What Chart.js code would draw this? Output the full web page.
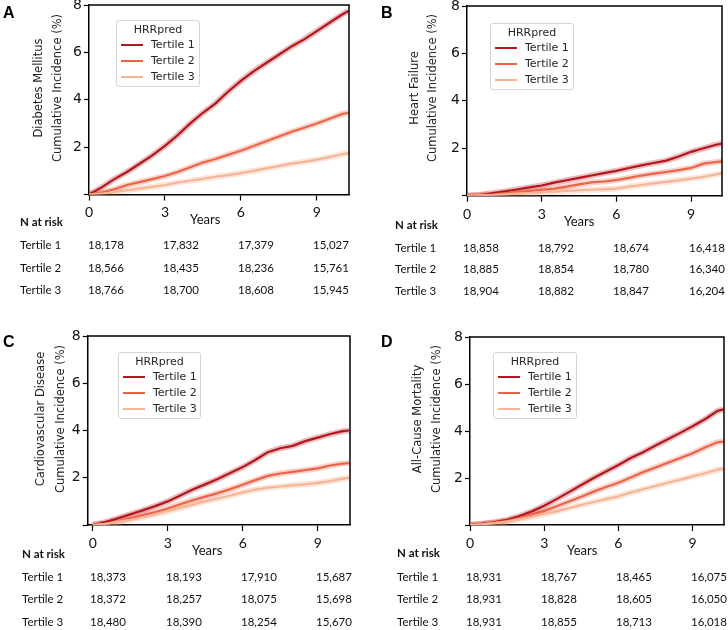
<!DOCTYPE html>
<html>
<head>
<meta charset="utf-8">
<script src="https://cdn.jsdelivr.net/npm/chart.js@4.4.0/dist/chart.umd.min.js"></script>
<style>
  body { margin: 0; background: #fff; }
  #page { position: relative; width: 728px; height: 630px; overflow: hidden; font-family: Lato, sans-serif; color: #111; }
  canvas { position: absolute; }
  .abs { position: absolute; white-space: nowrap; }
  .letter { font-family: "Liberation Sans", Arial, sans-serif; font-weight: bold; font-size: 16px; color: #000; }
  .ytitle { font-family: "DejaVu Sans", sans-serif; font-size: 11.5px; color: #222; transform: translate(-50%, -50%) rotate(-90deg); }
  .legend { border: 1px solid #d6d6d6; border-radius: 3px; background: rgba(255,255,255,0.85); font-family: "DejaVu Sans", sans-serif; font-size: 11px; color: #262626; }
  .legend .ttl { position: absolute; left: 0; right: 0; text-align: center; }
  .legend .row { position: absolute; white-space: nowrap; }
  .legend .swatch { display: inline-block; width: 22px; height: 2px; vertical-align: middle; margin-right: 8px; }
  .tbl { font-size: 11.5px; transform: translateY(-50%); }
  .years { font-size: 13px; transform: translateY(-50%); }
</style>
</head>
<body>
<div id="page"></div>
<script>
// ---- data ----
const YEARS = [0, 0.5, 1, 1.5, 2, 2.5, 3, 3.5, 4, 4.5, 5, 5.5, 6, 6.5, 7, 7.5, 8, 8.5, 9, 9.5, 10, 10.25];
const X_TICKS = [0, 3, 6, 9];
const Y_TICKS = [0, 2, 4, 6, 8];
const SERIES_NAMES = ['Tertile 1', 'Tertile 2', 'Tertile 3'];
const LEGEND_TITLE = 'HRRpred';
const PANEL_LETTERS = ['A', 'B', 'C', 'D'];
const PANEL_TITLES = ['Diabetes Mellitus', 'Heart Failure', 'Cardiovascular Disease', 'All-Cause Mortality'];

// Diabetes Mellitus
const DM_T1 = [0, 0.3, 0.65, 0.95, 1.3, 1.65, 2.05, 2.5, 3.0, 3.45, 3.85, 4.35, 4.8, 5.2, 5.55, 5.9, 6.25, 6.55, 6.9, 7.25, 7.6, 7.75];
const DM_T2 = [0, 0.08, 0.22, 0.4, 0.52, 0.65, 0.78, 0.95, 1.15, 1.35, 1.5, 1.68, 1.85, 2.05, 2.25, 2.45, 2.65, 2.82, 3.0, 3.2, 3.4, 3.45];
const DM_T3 = [0, 0.04, 0.1, 0.18, 0.25, 0.32, 0.4, 0.5, 0.58, 0.66, 0.75, 0.82, 0.9, 1.0, 1.1, 1.2, 1.3, 1.38, 1.47, 1.58, 1.7, 1.75];
// Heart Failure
const HF_T1 = [0, 0.03, 0.1, 0.18, 0.26, 0.35, 0.43, 0.55, 0.65, 0.75, 0.85, 0.95, 1.05, 1.17, 1.28, 1.38, 1.48, 1.65, 1.85, 2.0, 2.15, 2.2];
const HF_T2 = [0, 0.02, 0.05, 0.1, 0.15, 0.2, 0.25, 0.3, 0.38, 0.48, 0.56, 0.6, 0.66, 0.75, 0.85, 0.93, 1.0, 1.08, 1.17, 1.35, 1.42, 1.45];
const HF_T3 = [0, 0.01, 0.03, 0.06, 0.09, 0.11, 0.14, 0.17, 0.2, 0.23, 0.25, 0.27, 0.3, 0.38, 0.45, 0.52, 0.58, 0.65, 0.72, 0.8, 0.9, 0.95];
// Cardiovascular Disease
const CVD_T1 = [0, 0.12, 0.28, 0.45, 0.62, 0.8, 1.0, 1.25, 1.5, 1.72, 1.95, 2.2, 2.45, 2.75, 3.08, 3.25, 3.35, 3.55, 3.7, 3.85, 3.97, 4.0];
const CVD_T2 = [0, 0.05, 0.15, 0.28, 0.42, 0.55, 0.7, 0.88, 1.05, 1.2, 1.35, 1.52, 1.7, 1.9, 2.08, 2.18, 2.25, 2.32, 2.4, 2.52, 2.6, 2.62];
const CVD_T3 = [0, 0.05, 0.13, 0.22, 0.33, 0.45, 0.58, 0.72, 0.86, 1.0, 1.12, 1.25, 1.38, 1.5, 1.58, 1.63, 1.68, 1.72, 1.78, 1.86, 1.96, 2.0];
// All-Cause Mortality
const ACM_T1 = [0, 0.05, 0.12, 0.22, 0.38, 0.58, 0.82, 1.1, 1.4, 1.7, 2.0, 2.28, 2.55, 2.85, 3.1, 3.38, 3.65, 3.92, 4.2, 4.5, 4.85, 4.92];
const ACM_T2 = [0, 0.04, 0.1, 0.18, 0.3, 0.45, 0.6, 0.8, 1.0, 1.2, 1.42, 1.62, 1.8, 2.02, 2.25, 2.45, 2.65, 2.85, 3.05, 3.3, 3.52, 3.55];
const ACM_T3 = [0, 0.03, 0.08, 0.15, 0.25, 0.35, 0.47, 0.58, 0.72, 0.85, 0.98, 1.1, 1.22, 1.38, 1.52, 1.66, 1.8, 1.93, 2.07, 2.2, 2.35, 2.4];

// N at risk at years 0, 3, 6, 9
const RISK_DM = [[18178, 17832, 17379, 15027], [18566, 18435, 18236, 15761], [18766, 18700, 18608, 15945]];
const RISK_HF = [[18858, 18792, 18674, 16418], [18885, 18854, 18780, 16340], [18904, 18882, 18847, 16204]];
const RISK_CVD = [[18373, 18193, 17910, 15687], [18372, 18257, 18075, 15698], [18480, 18390, 18254, 15670]];
const RISK_ACM = [[18931, 18767, 18465, 16075], [18931, 18828, 18605, 16050], [18931, 18855, 18713, 16018]];

const CURVES = [[DM_T1, DM_T2, DM_T3], [HF_T1, HF_T2, HF_T3], [CVD_T1, CVD_T2, CVD_T3], [ACM_T1, ACM_T2, ACM_T3]];
const RISKS = [RISK_DM, RISK_HF, RISK_CVD, RISK_ACM];

// ---- styling / layout ----
const COLORS = ['#b3161c', '#ec6447', '#f6b597'];
const BANDS = ['rgba(179,22,28,0.28)', 'rgba(236,100,71,0.28)', 'rgba(246,181,151,0.35)'];

const LAYOUT = [
  { x0: 0,   plot: { l: 89,   t: 5,   r: 349, b: 194.5 }, xMin: 0,    xMax: 10.27, yt: [38, 57],   ytY: 88,  leg: { l: 116, t: 20,  w: 82, h: 65 },
    letter: { x: 3, y: 13 },   years: { x: 190, y: 219 }, head: { x: 20, y: 221 },  rowX: 20,  rowsY: [244, 267, 289], cols: [88, 163, 238, 313] },
  { x0: 364, plot: { l: 467,  t: 6,   r: 722, b: 195.7 }, xMin: 0,    xMax: 10.24, yt: [414, 432], ytY: 88,  leg: { l: 490, t: 23,  w: 82, h: 65 },
    letter: { x: 381, y: 13 }, years: { x: 564, y: 221 }, head: { x: 395, y: 224 }, rowX: 395, rowsY: [247, 268, 290], cols: [463, 538, 613, 689] },
  { x0: 0,   plot: { l: 87.7, t: 336, r: 350, b: 525 },   xMin: -0.2, xMax: 10.29, yt: [40, 60],   ytY: 419, leg: { l: 118, t: 352, w: 81, h: 65 },
    letter: { x: 3, y: 342 },  years: { x: 192, y: 550 }, head: { x: 22, y: 553 },  rowX: 22,  rowsY: [576, 598, 621], cols: [90, 166, 241, 316] },
  { x0: 364, plot: { l: 470,  t: 337, r: 724, b: 525 },   xMin: 0,    xMax: 10.27, yt: [417, 436], ytY: 419, leg: { l: 493, t: 352, w: 82, h: 65 },
    letter: { x: 381, y: 342 }, years: { x: 567, y: 550 }, head: { x: 397, y: 552 }, rowX: 397, rowsY: [576, 598, 621], cols: [466, 541, 616, 691] }
];

const page = document.getElementById('page');

function addText(txt, cls, x, y, extra) {
  const d = document.createElement('div');
  d.className = 'abs ' + cls;
  d.textContent = txt;
  d.style.left = x + 'px';
  d.style.top = y + 'px';
  if (extra) Object.assign(d.style, extra);
  page.appendChild(d);
  return d;
}

// top + right spines
const framePlugin = {
  id: 'frame',
  afterDraw(chart) {
    const a = chart.chartArea, ctx = chart.ctx;
    ctx.save();
    ctx.strokeStyle = '#000';
    ctx.lineWidth = 1.5;
    ctx.beginPath();
    ctx.moveTo(a.left, a.top);
    ctx.lineTo(a.right, a.top);
    ctx.lineTo(a.right, a.bottom);
    ctx.stroke();
    ctx.restore();
  }
};

function makePanel(i) {
  const L = LAYOUT[i];
  const canvasTop = L.plot.t - 17;
  const canvasH = Math.round(L.plot.b - canvasTop + 32);
  const cv = document.createElement('canvas');
  cv.width = 364;
  cv.height = canvasH;
  cv.style.left = L.x0 + 'px';
  cv.style.top = canvasTop + 'px';
  cv.style.width = '364px';
  cv.style.height = canvasH + 'px';
  page.appendChild(cv);

  const datasets = [];
  CURVES[i].forEach((ys, k) => {
    datasets.push({
      data: YEARS.map((t, j) => ({ x: t, y: ys[j] })),
      borderColor: BANDS[k], borderWidth: 6, pointRadius: 0, tension: 0, order: 10 + k
    });
  });
  CURVES[i].forEach((ys, k) => {
    datasets.push({
      data: YEARS.map((t, j) => ({ x: t, y: ys[j] })),
      borderColor: COLORS[k], borderWidth: 2.2, pointRadius: 0, tension: 0, order: 3 - k
    });
  });

  new Chart(cv.getContext('2d'), {
    type: 'line',
    data: { datasets: datasets },
    options: {
      responsive: false,
      animation: false,
      layout: { padding: { top: L.plot.t - canvasTop, right: L.x0 + 364 - L.plot.r, left: 0, bottom: 0 } },
      plugins: { legend: { display: false }, tooltip: { enabled: false } },
      scales: {
        x: {
          type: 'linear', min: L.xMin, max: L.xMax,
          afterBuildTicks: s => { s.ticks = X_TICKS.map(v => ({ value: v })); },
          afterFit: s => { s.height = canvasTop + canvasH - L.plot.b; },
          grid: { drawOnChartArea: false, color: '#000', tickLength: 6, tickWidth: 1.2 },
          border: { color: '#000', width: 1.5 },
          ticks: { font: { family: 'Lato', size: 14 }, color: '#111', padding: 4, maxRotation: 0 }
        },
        y: {
          min: 0, max: 8,
          afterBuildTicks: s => { s.ticks = Y_TICKS.map(v => ({ value: v })); },
          afterFit: s => { s.width = L.plot.l - L.x0; },
          grid: { drawOnChartArea: false, color: '#000', tickLength: 5, tickWidth: 1.2 },
          border: { color: '#000', width: 1.5 },
          ticks: { font: { family: 'DejaVu Sans', size: 14 }, color: '#111', padding: 2, callback: v => v === 0 ? '' : v }
        }
      }
    },
    plugins: [framePlugin]
  });

  // panel letter
  addText(PANEL_LETTERS[i], 'letter', L.letter.x, L.letter.y, { transform: 'translateY(-50%)' });
  // y axis title (two lines)
  addText(PANEL_TITLES[i], 'ytitle', L.yt[0], L.ytY);
  addText('Cumulative Incidence (%)', 'ytitle', L.yt[1], L.ytY);

  // legend box
  const lg = document.createElement('div');
  lg.className = 'abs legend';
  Object.assign(lg.style, { left: L.leg.l + 'px', top: L.leg.t + 'px', width: L.leg.w + 'px', height: L.leg.h + 'px' });
  const ttl = document.createElement('div');
  ttl.className = 'ttl';
  ttl.style.top = '2px';
  ttl.textContent = LEGEND_TITLE;
  lg.appendChild(ttl);
  SERIES_NAMES.forEach((name, k) => {
    const r = document.createElement('div');
    r.className = 'row';
    r.style.left = '4px';
    r.style.top = (17 + 16 * k) + 'px';
    const sw = document.createElement('span');
    sw.className = 'swatch';
    sw.style.background = COLORS[k];
    r.appendChild(sw);
    r.appendChild(document.createTextNode(name));
    lg.appendChild(r);
  });
  page.appendChild(lg);

  // x title
  addText('Years', 'years', L.years.x, L.years.y);

  // N at risk table
  addText('N at risk', 'tbl', L.head.x, L.head.y, { fontWeight: 'bold' });
  RISKS[i].forEach((row, k) => {
    addText(SERIES_NAMES[k], 'tbl', L.rowX, L.rowsY[k]);
    row.forEach((n, c) => addText(n.toLocaleString('en-US'), 'tbl', L.cols[c], L.rowsY[k]));
  });
}

for (let i = 0; i < 4; i++) makePanel(i);
</script>
</body>
</html>
